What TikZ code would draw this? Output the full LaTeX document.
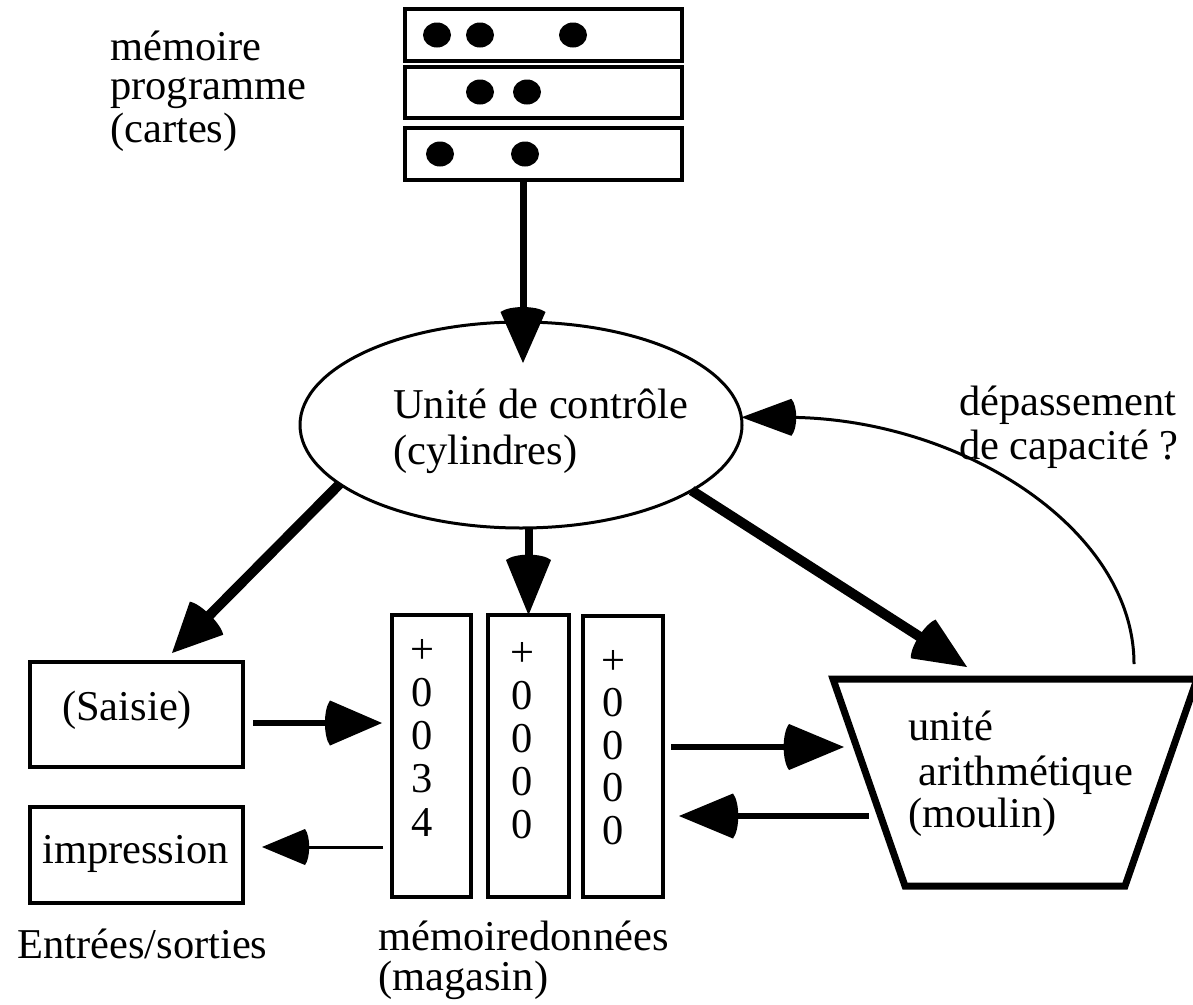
\documentclass[tikz,border=0pt]{standalone}
\usepackage{fontspec}
\setmainfont{Liberation Serif}
\usetikzlibrary{arrows.meta,shapes.geometric,calc}
\pgfdeclarearrow{
  name = Mac,
  parameters = {\the\pgfarrowlength,\the\pgfarrowwidth},
  setup code = {
    \pgfarrowssettipend{0pt}
    \pgfarrowssetlineend{-0.9\pgfarrowlength}
    \pgfarrowssetbackend{-1.1\pgfarrowlength}
    \pgfarrowssavethe\pgfarrowlength
    \pgfarrowssavethe\pgfarrowwidth
  },
  drawing code = {
    \pgfpathmoveto{\pgfpointorigin}
    \pgfpathlineto{\pgfpoint{-\pgfarrowlength}{.5\pgfarrowwidth}}
    \pgfpathcurveto{\pgfpoint{-1.13\pgfarrowlength}{.3\pgfarrowwidth}}{\pgfpoint{-1.13\pgfarrowlength}{-.3\pgfarrowwidth}}{\pgfpoint{-\pgfarrowlength}{-.5\pgfarrowwidth}}
    \pgfpathclose
    \pgfusepathqfill
  },
  defaults = {length = 50pt, width = 45pt}
}
\begin{document}
\begin{tikzpicture}[x=1pt,y=-1pt,
  box/.style={draw, line width=3.3pt, inner sep=0pt, outer sep=0pt, anchor=north west},
  dot/.style={ellipse, fill=black, minimum width=28pt, minimum height=25pt, inner sep=0pt},
  lbl/.style={font=\fontsize{42.5}{44}\selectfont, inner sep=0pt, anchor=base west},
  dig/.style={font=\fontsize{42.5}{44}\selectfont, inner sep=0pt, anchor=base},
  conn/.style={line cap=butt, line join=miter}
]
\useasboundingbox (0,0) rectangle (1193,1004);
\fill[white] (0,0) rectangle (1193,1004);

% program cards
\node[box, minimum width=277pt, minimum height=52pt] (card1) at (405,9) {};
\node[box, minimum width=277pt, minimum height=51pt] (card2) at (405,67) {};
\node[box, minimum width=277pt, minimum height=52pt] (card3) at (405,128) {};
\node[dot] (d1) at (437,35) {};
\node[dot] (d2) at (480,35) {};
\node[dot] (d3) at (573,35) {};
\node[dot] (d4) at (480,92) {};
\node[dot] (d5) at (527,92) {};
\node[dot] (d6) at (440,154) {};
\node[dot] (d7) at (525,154) {};

\node[lbl] (mp1) at (110,60) {mémoire};
\node[lbl] (mp2) at (110,99) {programme};
\node[lbl] (mp3) at (110,142) {(cartes)};

% control unit
\node[ellipse, draw, line width=3pt, minimum width=442pt, minimum height=206pt, inner sep=0pt, outer sep=0pt] (ctrl) at (521,425) {};
\node[lbl] (uc1) at (393,418) {Unité de contrôle};
\node[lbl] (uc2) at (393,464) {(cylindres)};

\node[lbl] (dp1) at (959,415) {dépassement};
\node[lbl] (dp2) at (959,459) {de capacité ?};

% I/O
\node[box, minimum width=213pt, minimum height=105pt] (saisie) at (30,662) {};
\node[lbl] (saisieT) at (62,720) {(Saisie)};
\node[box, minimum width=213pt, minimum height=96pt] (impr) at (30,807) {};
\node[lbl] (imprT) at (42,863) {impression};
\node[lbl] (es) at (17,958) {Entrées/sorties};

% data memory
\node[box, minimum width=79pt, minimum height=282pt] (col1) at (392,615) {};
\node[box, minimum width=81pt, minimum height=282pt] (col2) at (488,615) {};
\node[box, minimum width=80pt, minimum height=281pt] (col3) at (583,616) {};
\foreach \t [count=\i] in {+,0,0,3,4}
  \node[dig] (ca\i) at (422,{663+43.3*(\i-1)}) {\t};
\foreach \t [count=\i] in {+,0,0,0,0}
  \node[dig] (cb\i) at (522,{666+43*(\i-1)}) {\t};
\foreach \t [count=\i] in {+,0,0,0,0}
  \node[dig] (cc\i) at (613,{674+42.5*(\i-1)}) {\t};
\node[lbl] (md1) at (378,950) {mémoiredonnées};
\node[lbl] (md2) at (378,990) {(magasin)};

% arithmetic unit
\coordinate (aluTL) at (833,679);
\coordinate (aluTR) at (1197,679);
\coordinate (aluBR) at (1125,886);
\coordinate (aluBL) at (905,886);
\draw[line width=7pt, line join=miter] (aluTL) -- (aluTR) -- (aluBR) -- (aluBL) -- cycle;
\node[lbl] (au1) at (908,740) {unité};
\node[lbl] (au2) at (918,785) {arithmétique};
\node[lbl] (au3) at (908,827) {(moulin)};

% connectors
\coordinate (ctrlIn) at (523,363);
\draw[conn, line width=7pt, -{Mac[length=51pt,width=45pt]}] (card3.south -| ctrlIn) -- (ctrlIn);

\coordinate (saisieIn) at (172,653);
\draw[conn, line width=10pt, -{Mac[length=49pt,width=47pt]}] (ctrl.198) -- (saisieIn);

\draw[conn, line width=8pt, -{Mac[length=55pt,width=45pt]}] (ctrl.south -| col2.north) -- (col2.north);

\coordinate (aluTopIn) at (967,667);
\draw[conn, line width=10pt, -{Mac[length=52pt,width=46pt]}] (ctrl.-21) -- (aluTopIn);

\coordinate (mIn) at (382,723);
\draw[conn, line width=6pt, -{Mac[length=52pt,width=45pt]}] ($(saisie.east|-mIn)+(10,0)$) -- (mIn);

\coordinate (impIn) at (262,847);
\draw[conn, line width=3pt, -{Mac[length=43pt,width=36pt]}] ($(col1.west|-impIn)+(-9,0)$) -- (impIn);

\coordinate (aluIn) at (844,747);
\draw[conn, line width=5.5pt, -{Mac[length=55pt,width=46pt]}] ($(col3.east|-aluIn)+(8,0)$) -- (aluIn);

\coordinate (aluOut) at (869,816);
\draw[conn, line width=5.5pt, -{Mac[length=54pt,width=45pt]}] (aluOut) -- ($(col3.east|-aluOut)+(16,0)$);

\coordinate (aluTop) at (1134,664);
\draw[conn, line width=3pt, -{Mac[length=50pt,width=37pt]}] (aluTop) .. controls +(0,-136) and +(218,0) .. (ctrl.2);
\end{tikzpicture}
\end{document}
